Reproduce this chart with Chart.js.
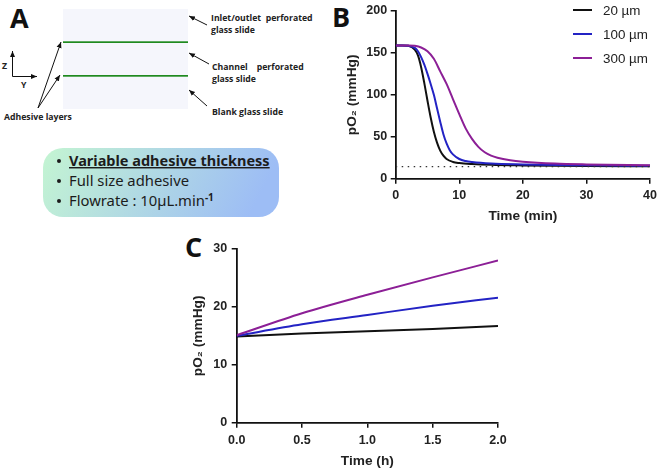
<!DOCTYPE html>
<html>
<head>
<meta charset="utf-8">
<style>
  html, body { margin: 0; padding: 0; background: #fff; width: 661px; height: 471px; overflow: hidden; }
  canvas { position: absolute; }
  #chartB { left: 339px; top: 0; }
  #chartC { left: 185px; top: 235px; }
  #panelA { position: absolute; left: 0; top: 0; }
  #legendB { position: absolute; left: 573px; top: -2px; font: 13.4px 'Liberation Sans', Arial, sans-serif; color: #222; }
  .legend-row { display: flex; align-items: center; height: 24px; }
  .legend-row i { display: block; width: 19px; height: 2px; margin-right: 11px; }
</style>
<script src="https://cdn.jsdelivr.net/npm/chart.js@4"></script>
</head>
<body>
<svg id="panelA" width="661" height="471" xmlns="http://www.w3.org/2000/svg">
  <defs>
    <linearGradient id="boxFill" x1="0" y1="0" x2="1" y2="0.15">
      <stop offset="0" stop-color="#c4f5d2"/>
      <stop offset="1" stop-color="#9dbdf5"/>
    </linearGradient>
    <marker id="head" markerWidth="7" markerHeight="7" refX="6" refY="3" orient="auto">
      <path d="M0,0.500 L6,3 L0,5.500 Z" fill="#111"/>
    </marker>
  </defs>
  <g font-family="'Open Sans'" font-weight="700" fill="#111">
    <text x="10" y="28" font-size="27">A</text>
    <text x="332" y="27" font-size="27">B</text>
    <text x="185" y="257" font-size="27">C</text>
  </g>
  <rect x="63" y="9" width="125" height="100" fill="#f5f6fc"/>
  <rect x="63" y="41.3" width="125" height="1.7" fill="#1f8a1f"/>
  <rect x="63" y="75" width="125" height="1.7" fill="#1f8a1f"/>
  <g stroke="#111" stroke-width="1" fill="none" marker-end="url(#head)">
    <path d="M12.500,76.500 L12.500,51"/>
    <path d="M12.500,76.500 L37,76.500"/>
    <path d="M38,108 L61,42"/>
    <path d="M38,108 L60,75"/>
    <path d="M207,25 L189,16"/>
    <path d="M209,64 L189,53"/>
    <path d="M207,106 L189,90"/>
  </g>
  <g font-family="'Open Sans'" font-weight="700" font-size="8.7" fill="#222">
    <text x="2" y="69">Z</text>
    <text x="21" y="88">Y</text>
    <text x="4" y="120">Adhesive layers</text>
    <text x="211" y="21">Inlet/outlet&#160;&#160;perforated</text>
    <text x="211" y="33">glass slide</text>
    <text x="212" y="70">Channel&#160;&#160;&#160;&#160;perforated</text>
    <text x="212" y="82">glass slide</text>
    <text x="212" y="115">Blank glass slide</text>
  </g>
  <rect x="43" y="148" width="236" height="69" rx="20" fill="url(#boxFill)"/>
  <g font-family="'Noto Sans'" font-size="14.8" fill="#1c1c1c">
    <circle cx="59" cy="161" r="2"/>
    <circle cx="59" cy="181" r="2"/>
    <circle cx="59" cy="201" r="2"/>
    <text x="69" y="166" font-weight="700" font-size="14.5" text-decoration="underline">Variable adhesive thickness</text>
    <text x="69" y="186">Full size adhesive</text>
    <text x="69" y="206">Flowrate : 10µL.min<tspan font-weight="700" font-size="10" dy="-5">-1</tspan></text>
  </g>
</svg>
<canvas id="chartB" width="322" height="224"></canvas>
<canvas id="chartC" width="335" height="234"></canvas>
<div id="legendB"></div>
<script>
// Panel B, oxygen drop over the first 40 min
const timeB20 = [0, 1, 2, 3, 3.5, 4, 4.5, 5, 5.5, 6, 6.5, 7, 7.5, 8, 9, 10, 12, 15, 20, 30, 40];
const po2B20 = [159, 159, 158.5, 154, 147, 133, 114, 93, 73, 56, 43, 33.5, 27.5, 23.5, 20, 18.7, 17.5, 16.5, 15.8, 15, 14.8];
const timeB100 = [0, 1, 2, 3, 3.5, 4, 4.5, 5, 5.5, 6, 6.5, 7, 7.5, 8, 8.5, 9, 10, 11, 12, 15, 20, 30, 40];
const po2B100 = [159, 159, 158.5, 156, 152, 145, 136, 125, 113, 100, 84, 68, 53, 42, 34, 29, 23.5, 21, 19.8, 18, 17, 16, 15.3];
const timeB300 = [0, 2, 3, 4, 5, 6, 7, 8, 9, 10, 11, 12, 13, 14, 15, 16, 18, 20, 25, 30, 40];
const po2B300 = [159, 159, 158.5, 156.5, 152, 143, 128, 113, 95, 77, 60, 47.5, 38, 31.5, 27.5, 25, 22, 20.3, 18, 17, 16];
const limitTime = [0, 40];
const limitPo2 = [14.5, 14.5];

// Panel C, slow rise over 2 h
const timeC = [0, 0.5, 1, 1.5, 2];
const po2C20 = [14.9, 15.4, 15.8, 16.2, 16.7];
const po2C100 = [15, 17, 18.6, 20.2, 21.6];
const po2C300 = [15.1, 18.9, 22.1, 25.1, 28];

const seriesLabels = ['20 µm', '100 µm', '300 µm'];
const seriesColors = ['#111111', '#2323c4', '#8c1f96'];
const ticksBX = [0, 10, 20, 30, 40];
const ticksBY = [0, 50, 100, 150, 200];
const ticksCX = [0, 0.5, 1, 1.5, 2];
const ticksCY = [0, 10, 20, 30];

const fontFamily = "'Liberation Sans', Arial, sans-serif";

const zip = (xs, ys) => xs.map((x, i) => ({ x: x, y: ys[i] }));

const lineSet = (i, points) => ({
    label: seriesLabels[i],
    data: points,
    borderColor: seriesColors[i],
    borderWidth: 2,
    pointRadius: 0,
    cubicInterpolationMode: 'monotone'
});

const axis = (min, max, tickValues, title, fit, digits, tickPad) => ({
    type: 'linear',
    min: min,
    max: max,
    afterBuildTicks: (scale) => { scale.ticks = tickValues.map(v => ({ value: v })); },
    afterFit: fit,
    border: { color: '#111', width: 1.8 },
    grid: { drawOnChartArea: false, color: '#111', lineWidth: 1.5, tickLength: 5 },
    ticks: {
        color: '#222',
        padding: tickPad,
        maxRotation: 0,
        font: { family: fontFamily, size: 12.5, weight: 'bold' },
        callback: (v) => digits ? Number(v).toFixed(digits) : v
    },
    title: {
        display: true,
        text: title,
        color: '#222',
        padding: { top: 5, bottom: 0 },
        font: { family: fontFamily, size: 13.7, weight: 'bold' }
    }
});

new Chart(document.getElementById('chartB').getContext('2d'), {
    type: 'line',
    data: {
        datasets: [
            {
                label: 'limit',
                data: zip(limitTime, limitPo2),
                borderColor: '#333',
                borderWidth: 1.3,
                borderDash: [1.5, 4.5],
                pointRadius: 0
            },
            lineSet(2, zip(timeB300, po2B300)),
            lineSet(1, zip(timeB100, po2B100)),
            lineSet(0, zip(timeB20, po2B20))
        ]
    },
    options: {
        responsive: false,
        animation: false,
        layout: { padding: { top: 7.7, right: 9 } },
        plugins: { legend: { display: false }, tooltip: { enabled: false } },
        scales: {
            x: axis(0, 40, ticksBX, 'Time (min)', (s) => { s.height = 45.3; }, 0, 4),
            y: axis(0, 200, ticksBY, 'pO₂ (mmHg)', (s) => { s.width = 56.7; }, 0, 3.5)
        }
    }
});

new Chart(document.getElementById('chartC').getContext('2d'), {
    type: 'line',
    data: {
        datasets: [
            lineSet(2, zip(timeC, po2C300)),
            lineSet(1, zip(timeC, po2C100)),
            lineSet(0, zip(timeC, po2C20))
        ]
    },
    options: {
        responsive: false,
        animation: false,
        layout: { padding: { top: 14, right: 22 } },
        plugins: { legend: { display: false }, tooltip: { enabled: false } },
        scales: {
            x: axis(0, 2, ticksCX, 'Time (h)', (s) => { s.height = 46.3; }, 1, 5.5),
            y: axis(0, 30, ticksCY, 'pO₂ (mmHg)', (s) => { s.width = 51.7; }, 0, 4.5)
        }
    }
});

// Legend for panel B
const legendB = document.getElementById('legendB');
seriesLabels.forEach((label, i) => {
    const row = document.createElement('div');
    row.className = 'legend-row';
    const swatch = document.createElement('i');
    swatch.style.background = seriesColors[i];
    row.appendChild(swatch);
    row.appendChild(document.createTextNode(label));
    legendB.appendChild(row);
});
</script>
</body>
</html>
